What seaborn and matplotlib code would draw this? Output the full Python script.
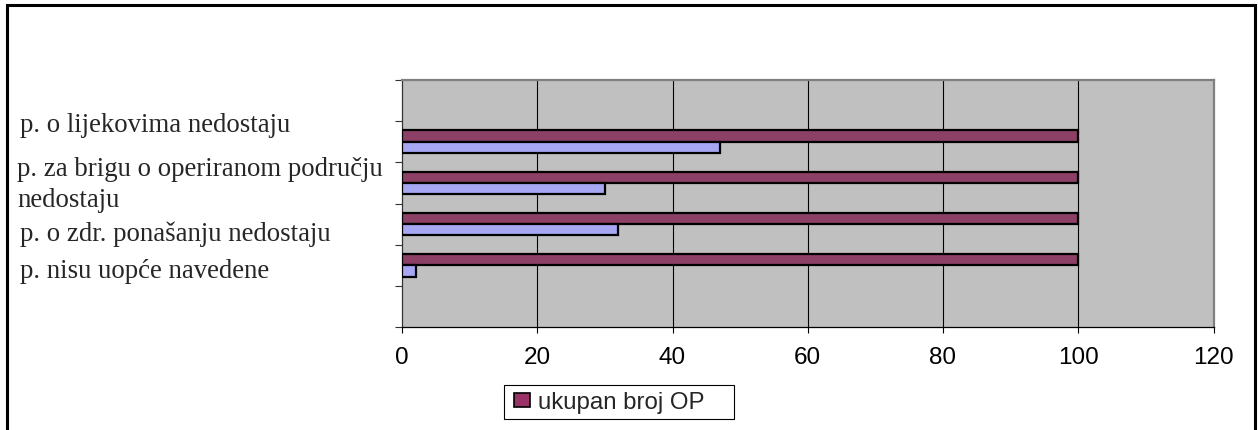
import pandas as pd
import seaborn as sns
import matplotlib.pyplot as plt
from matplotlib.patches import Rectangle

# podaci
kategorije = [
    "p. o lijekovima nedostaju",
    "p. za brigu o operiranom području\nnedostaju",
    "p. o zdr. ponašanju nedostaju",
    "p. nisu uopće navedene",
]
ukupan_broj = [100, 100, 100, 100]
s_nedostatkom = [47, 30, 32, 2]
serije = ["ukupan broj OP", "OP s nedostatkom"]
x_ticks = [0, 20, 40, 60, 80, 100, 120]

boje = ["#993366", "#9999FF"]

df = pd.DataFrame(
    {
        "kategorija": kategorije * 2,
        "broj": ukupan_broj + s_nedostatkom,
        "serija": [serije[0]] * len(kategorije) + [serije[1]] * len(kategorije),
    }
)

W, H = 1258, 430
sns.set_style("white")
fig = plt.figure(figsize=(W / 100, H / 100), dpi=100)
ax = fig.add_axes([402 / W, 1 - 327 / H, (1213.5 - 402) / W, (327 - 80) / H])

sns.barplot(
    data=df,
    x="broj",
    y="kategorija",
    hue="serija",
    hue_order=serije,
    palette=boje,
    orient="h",
    width=0.55,
    edgecolor="black",
    linewidth=1.6,
    legend=False,
    ax=ax,
    zorder=3,
)

ax.set_facecolor("#C0C0C0")
ax.set_xlim(0, 120)
ax.set_ylim(len(kategorije) + 0.5, -1.5)
ax.set_xticks(x_ticks)
ax.set_xticklabels([str(t) for t in x_ticks], fontfamily="Liberation Sans", fontsize=17.5)
ax.set_yticks([i - 0.5 for i in range(-1, len(kategorije) + 2)])
ax.set_yticklabels([])
ax.set_xlabel("")
ax.set_ylabel("")
for x in x_ticks[1:-1]:
    ax.axvline(x, color="black", lw=0.8, zorder=1)

ax.tick_params(axis="x", direction="out", length=4.5, width=0.8, pad=10, colors="black", bottom=True)
ax.tick_params(axis="y", direction="out", length=5, width=0.8, left=True, color="#333333")
for side in ["top", "right"]:
    ax.spines[side].set_color("#808080")
    ax.spines[side].set_linewidth(1.6)
ax.spines["left"].set_color("#333333")
ax.spines["bottom"].set_color("black")
ax.spines["left"].set_linewidth(0.9)
ax.spines["bottom"].set_linewidth(0.9)

# oznake kategorija (kao u izvorniku, tekst uz os)
baseline_y = [131.5, 176, 241.5, 278.5]
left_x = [20.5, 17, 20.5, 20.5]
razmak = 30.7
for lab, by, lx in zip(kategorije, baseline_y, left_x):
    for i, red in enumerate(lab.split("\n")):
        fig.text(
            lx / W,
            1 - (by + i * razmak) / H,
            red,
            fontfamily="Liberation Serif",
            fontsize=19.3,
            ha="left",
            va="baseline",
        )

# legenda samo za prvu seriju
handle = Rectangle((0, 0), 1, 1, facecolor=boje[0], edgecolor="black", lw=1.2)
leg = fig.legend(
    [handle],
    [serije[0]],
    loc="center left",
    bbox_to_anchor=(514.3 / W, 1 - 402.5 / H),
    prop={"family": "Liberation Sans", "size": 17.3},
    frameon=False,
    handlelength=0.67,
    handleheight=0.5,
    handletextpad=0.32,
    borderpad=0,
    borderaxespad=0,
)
fig.patches.append(
    Rectangle(
        (504.3 / W, 1 - 419 / H),
        (733.7 - 504.3) / W,
        (419 - 385) / H,
        transform=fig.transFigure,
        fill=False,
        edgecolor="black",
        lw=0.8,
    )
)

# okvir oko grafikona
fig.patches.append(
    Rectangle(
        (7 / W, -0.05),
        (1255 - 7) / W,
        1.05 - 4.5 / H,
        transform=fig.transFigure,
        fill=False,
        edgecolor="black",
        lw=2.2,
    )
)

fig.savefig("out.png", dpi=100)
